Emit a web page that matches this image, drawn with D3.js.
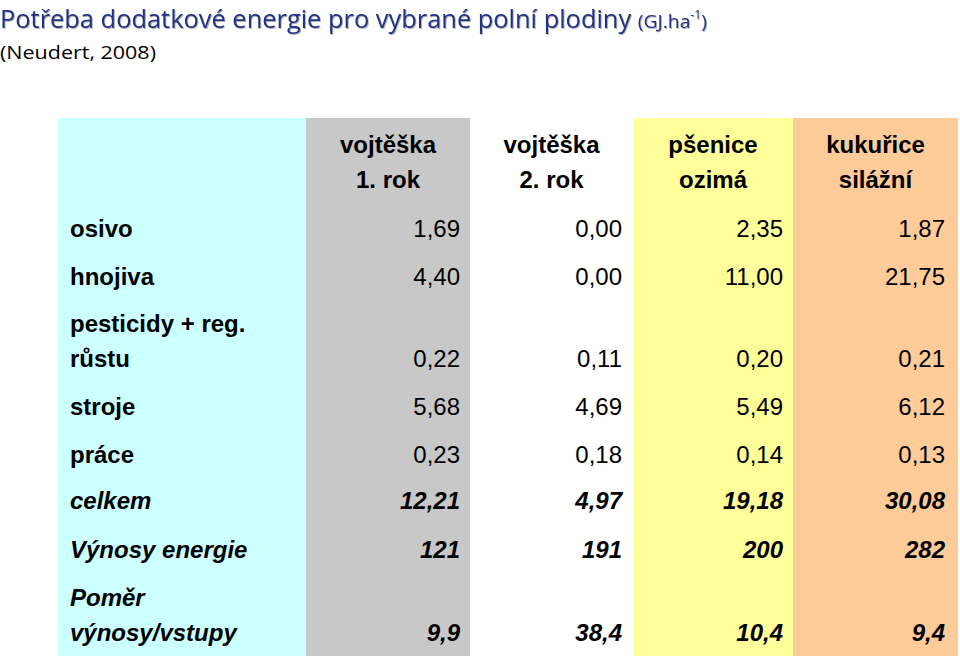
<!DOCTYPE html>
<html><head><meta charset="utf-8">
<script src="https://cdn.jsdelivr.net/npm/d3@7"></script>
<style>body{margin:0;background:#fff}</style>
</head><body>
<svg id="c" width="960" height="656"></svg>
<script>
const crops = [["vojtěška", "1. rok"], ["vojtěška", "2. rok"], ["pšenice", "ozimá"], ["kukuřice", "silážní"]];
const rowLabels = [["osivo"], ["hnojiva"], ["pesticidy + reg.", "růstu"], ["stroje"], ["práce"], ["celkem"], ["Výnosy energie"], ["Poměr", "výnosy/vstupy"]];
const values = [
  ["1,69", "0,00", "2,35", "1,87"],
  ["4,40", "0,00", "11,00", "21,75"],
  ["0,22", "0,11", "0,20", "0,21"],
  ["5,68", "4,69", "5,49", "6,12"],
  ["0,23", "0,18", "0,14", "0,13"],
  ["12,21", "4,97", "19,18", "30,08"],
  ["121", "191", "200", "282"],
  ["9,9", "38,4", "10,4", "9,4"]
];
const emphRows = [5, 6, 7];
const colColors = ["#ccffff", "#c8c8c8", "#ffffff", "#ffff99", "#ffcc99"];

const svg = d3.select("#c");
const font = "Liberation Sans, Arial, sans-serif";

// title
const t = svg.append("text").attr("x", 0).attr("y", 28).attr("fill", "#1f3286")
  .style("font-family", "Open Sans, sans-serif").style("font-size", "25px")
  .style("filter", "drop-shadow(1px 1px 0.5px rgba(0,0,0,0.3))")
  .attr("textLength", 707).attr("lengthAdjust", "spacingAndGlyphs");
t.append("tspan").text("Potřeba dodatkové energie pro vybrané polní plodiny ");
t.append("tspan").style("font-size", "19px").text("(GJ.ha");
t.append("tspan").style("font-size", "12px").attr("dy", -9).text("-1");
t.append("tspan").style("font-size", "19px").attr("dy", 9).text(")");
svg.append("text").attr("x", 0).attr("y", 59).text("(Neudert, 2008)")
  .style("font-family", "Open Sans, sans-serif").style("font-size", "19px")
  .attr("textLength", 156).attr("lengthAdjust", "spacingAndGlyphs");

// columns
const colEdges = [58, 306, 470, 633, 793, 958];
const tableTop = 118, tableBottom = 656;
colColors.forEach((c, i) => svg.append("rect").attr("x", colEdges[i]).attr("y", tableTop)
  .attr("width", colEdges[i + 1] - colEdges[i]).attr("height", tableBottom - tableTop).attr("fill", c));

// header
crops.forEach((lines, i) => {
  const cx = (colEdges[i + 1] + colEdges[i + 2]) / 2;
  lines.forEach((l, j) => svg.append("text").attr("x", cx).attr("y", 153 + j * 35)
    .attr("text-anchor", "middle").text(l)
    .style("font-family", font).style("font-weight", "bold").style("font-size", "24px"));
});

// rows: baseline of last line per row
const rowY = [237, 285, 367, 415, 463, 509, 558, 641];
const y = d3.scaleOrdinal().domain(d3.range(rowLabels.length)).range(rowY);
const numRight = [460, 622, 783, 945];

rowLabels.forEach((lines, r) => {
  const emph = emphRows.includes(r);
  lines.forEach((l, j) => svg.append("text").attr("x", 70)
    .attr("y", y(r) - (lines.length - 1 - j) * 35).text(l)
    .style("font-family", font).style("font-weight", "bold")
    .style("font-style", emph ? "italic" : "normal").style("font-size", "24px"));
  values[r].forEach((v, c) => svg.append("text").attr("x", numRight[c]).attr("y", y(r))
    .attr("text-anchor", "end").text(v)
    .style("font-family", font).style("font-weight", emph ? "bold" : "normal")
    .style("font-style", emph ? "italic" : "normal").style("font-size", "24px"));
});
</script>
</body></html>
